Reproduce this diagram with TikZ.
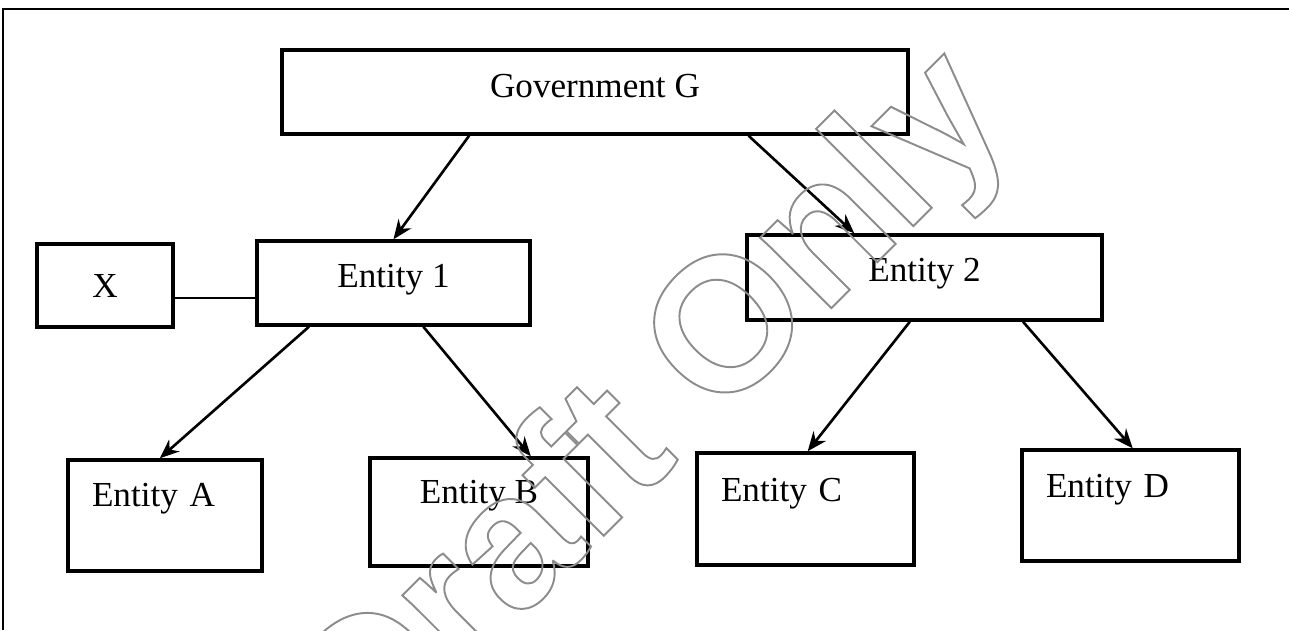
\documentclass[tikz,border=0pt]{standalone}
\usepackage{fontspec}
\setmainfont{Liberation Serif}
\newfontfamily\wmfont{Liberation Sans}
\usepackage{xcolor}
\usetikzlibrary{arrows.meta,calc}

\definecolor{wmgray}{RGB}{140,140,140}
\tikzset{
 box/.style={draw,line width=2pt,inner sep=0pt,font=\fontsize{20}{24}\selectfont},
 leaf/.style={box,align=left,inner xsep=0.48cm},
 link/.style={line width=1.5pt,-{Stealth[length=11pt,width=9pt]}}
}
\def\outl{\special{pdf:literal direct 1 Tr 1.1 w}}
\def\fill{\special{pdf:literal direct 0 Tr}}

\begin{document}
\begin{tikzpicture}[x=0.02cm,y=-0.02cm]
\useasboundingbox (0,0) rectangle (1289,630);
\draw[line width=1pt] (1289,9) -- (3,9) -- (3,630);

%top
\node[box,minimum width=12.52cm,text height=0.95cm,text depth=0.73cm] (gov) at (595,92) {Government G};

%second row
\node[box,minimum width=2.72cm,minimum height=1.66cm] (x) at (105,285.5) {X};
\node[box,minimum width=5.46cm,text height=0.93cm,text depth=0.75cm] (ent1) at (393.5,283) {Entity 1};
\node[box,minimum width=7.1cm,text height=0.93cm,text depth=0.77cm] (ent2) at (924.5,277.5) {Entity 2};

%leaves
\node[leaf,text width=2.92cm,text height=0.93cm,text depth=1.29cm] (entA) at (165,515.5) {Entity A};
\node[box,minimum width=4.36cm,text height=0.91cm,text depth=1.25cm] (entB) at (479,512) {Entity B};
\node[leaf,text width=3.38cm,text height=0.97cm,text depth=1.27cm] (entC) at (805.5,509) {Entity C};
\node[leaf,text width=3.38cm,text height=0.95cm,text depth=1.27cm] (entD) at (1130.5,505.5) {Entity D};

\draw[link] ($(gov.south west)!0.3!(gov.south east)$) -- (ent1.north);
\draw[link] ($(gov.south west)!0.744!(gov.south east)$) -- ($(ent2.north west)!0.304!(ent2.north east)$);
\draw[line width=1.5pt] ([yshift=-0.25cm]x.east) -- ([yshift=-0.25cm]x.east -| ent1.west);
\draw[link] ($(ent1.south west)!0.194!(ent1.south east)$) -- ($(entA.north west)!0.474!(entA.north east)$);
\draw[link] ($(ent1.south west)!0.608!(ent1.south east)$) -- ($(entB.north west)!0.734!(entB.north east)$);
\draw[link] ($(ent2.south west)!0.459!(ent2.south east)$) -- ($(entC.north west)!0.51!(entC.north east)$);
\draw[link] ($(ent2.south west)!0.775!(ent2.south east)$) -- ($(entD.north west)!0.51!(entD.north east)$);

%watermark
\node[rotate=45,font=\wmfont\bfseries\fontsize{108}{108}\selectfont] (wm) at (657,413) {\color{wmgray}\outl Draft Only\fill};

\end{tikzpicture}
\end{document}
